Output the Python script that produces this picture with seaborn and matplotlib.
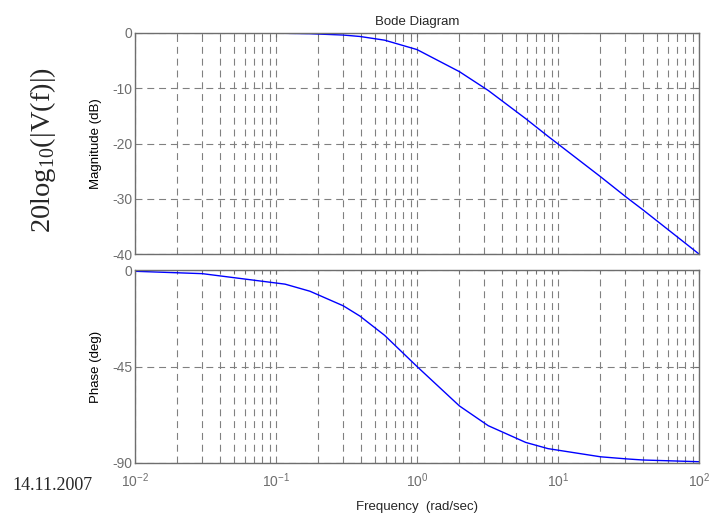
import numpy as np
import pandas as pd
import matplotlib
matplotlib.use("Agg")
import matplotlib.pyplot as plt
import seaborn as sns
from matplotlib.ticker import LogLocator

freq = [0.01, 0.03, 0.116, 0.174, 0.30, 0.394, 0.59, 1.0, 2.0, 3.2, 5.9, 8.5, 20.0, 30.8, 40.0, 100.0]
mag_db = [0.0, 0.0, -0.06, -0.13, -0.37, -0.63, -1.3, -3.0, -7.0, -10.4, -15.5, -18.7, -26.0, -29.8, -32.0, -40.0]
phase_deg = [-0.6, -1.7, -6.6, -9.9, -16.7, -21.5, -30.5, -45.0, -63.4, -72.6, -80.4, -83.3, -87.1, -88.1, -88.6, -89.4]

mag_ticks = [0, -10, -20, -30, -40]
phase_ticks = [0, -45, -90]

df = pd.DataFrame({"freq": freq, "mag": mag_db, "phase": phase_deg})

sns.set_style("white")
plt.rcParams["font.family"] = ["Liberation Sans", "DejaVu Sans"]
plt.rcParams["lines.scale_dashes"] = False
plt.rcParams["axes.unicode_minus"] = False

fig = plt.figure(figsize=(7.13, 5.20), dpi=100)
ax1 = fig.add_axes([135 / 713, 1 - 254 / 520, 564 / 713, 221 / 520])
ax2 = fig.add_axes([135 / 713, 1 - 463 / 520, 564 / 713, 193 / 520])

grey = "#6e6e6e"
for ax, col, ticks, lim in [(ax1, "mag", mag_ticks, (-40, 0)),
                            (ax2, "phase", phase_ticks, (-90, 0))]:
    sns.lineplot(data=df, x="freq", y=col, ax=ax, color="#0000ff", lw=1)
    ax.set_xscale("log")
    ax.set_xlim(0.01, 100)
    ax.set_ylim(*lim)
    ax.set_yticks(ticks)
    ax.xaxis.set_major_locator(LogLocator(base=10, numticks=10))
    ax.xaxis.set_minor_locator(LogLocator(base=10, subs=np.arange(2, 10), numticks=10))
    ax.grid(True, which="both", axis="x", color="#808080", lw=0.8, linestyle=(0, (5, 3.5)))
    ax.grid(True, which="major", axis="y", color="#808080", lw=0.8, linestyle=(0, (5, 3.5)))
    ax.tick_params(axis="both", which="both", direction="in", top=True, right=True,
                   colors=grey, labelcolor=grey, labelsize=10, length=3, pad=2)
    ax.tick_params(axis="x", which="both", pad=6)
    ax.tick_params(axis="x", which="minor", length=2)
    for s in ax.spines.values():
        s.set_color(grey)
        s.set_linewidth(1.0)
    ax.set_xlabel("")

ax1.tick_params(axis="x", labelbottom=False)
ax1.set_ylabel("Magnitude (dB)", fontsize=9.5, color="black", labelpad=7)
ax2.set_ylabel("Phase (deg)", fontsize=9.5, color="black", labelpad=7)
ax1.set_title("Bode Diagram", fontsize=9.5, pad=6)
ax2.set_xlabel("Frequency  (rad/sec)", fontsize=9.5, labelpad=8)

fig.text(43 / 713, 1 - 150 / 520, r"20log$_{\mathdefault{10}}$(|V(f)|)", rotation=90,
         ha="center", va="center", fontsize=20.5, family="Liberation Serif")
fig.text(12 / 713, 1 - 485 / 520, "14.11.2007", ha="left", va="center",
         fontsize=13, family="Liberation Serif")

fig.savefig("out.png", dpi=100)
